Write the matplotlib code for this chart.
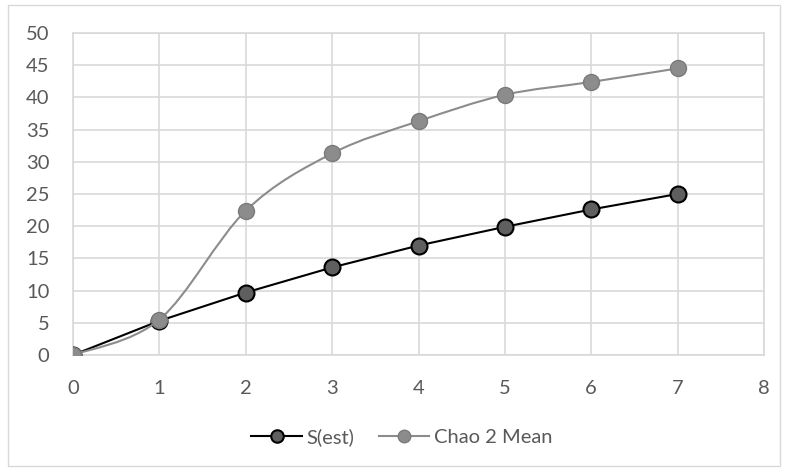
import matplotlib.pyplot as plt
import numpy as np
from matplotlib.path import Path
from matplotlib.patches import PathPatch, Rectangle

# datos de las curvas de acumulación
muestras = [0, 1, 2, 3, 4, 5, 6, 7]
s_est = [0, 5.3, 9.7, 13.6, 17.0, 19.9, 22.6, 25.0]
chao2 = [0, 5.5, 22.4, 31.3, 36.3, 40.4, 42.4, 44.5]
etiquetas = ['S(est)', 'Chao 2 Mean']

plt.rcParams['font.family'] = ['Lato', 'DejaVu Sans']
gris_texto = '#595959'
gris_chao = '#8c8c8c'

fig = plt.figure(figsize=(7.87, 4.74), dpi=100)
ax = fig.add_axes([73/787, 1 - 355/474, (764 - 73)/787, (355 - 33)/474])

# borde exterior del gráfico
fig.patches.append(Rectangle((8/787, 8/474), 772/787, 461/474, transform=fig.transFigure,
                             fill=False, edgecolor='#d9d9d9', linewidth=1))


def curva_suave(x, y, t=1/6):
    # spline tipo Catmull-Rom en segmentos Bezier cúbicos
    pts = np.column_stack([x, y]).astype(float)
    verts = [pts[0]]
    codes = [Path.MOVETO]
    n = len(pts)
    for i in range(n - 1):
        p0 = pts[max(i - 1, 0)]
        p1 = pts[i]
        p2 = pts[i + 1]
        p3 = pts[min(i + 2, n - 1)]
        c1 = p1 + (p2 - p0) * t
        c2 = p2 - (p3 - p1) * t
        verts += [c1, c2, p2]
        codes += [Path.CURVE4] * 3
    return Path(verts, codes)


# S(est)
ax.plot(muestras, s_est, color='black', linewidth=1.5, marker='o', markersize=11.5,
        markerfacecolor='#5f5f5f', markeredgecolor='black', markeredgewidth=1.5, zorder=3)

# curva Chao 2 suavizada
ax.add_patch(PathPatch(curva_suave(muestras, chao2), fill=False, edgecolor=gris_chao,
                       linewidth=1.5, zorder=4))
ax.plot(muestras, chao2, linestyle='none', marker='o', markersize=11.5,
        markerfacecolor=gris_chao, markeredgecolor='#7a7a7a', zorder=5)

ax.set_xlim(0, 8)
ax.set_ylim(0, 50)
ax.set_xticks(range(0, 9))
ax.set_yticks(range(0, 51, 5))
ax.grid(True, color='#d9d9d9', linewidth=1.2)
ax.set_axisbelow(True)
for s in ax.spines.values():
    s.set_color('#d9d9d9')
    s.set_linewidth(1.2)
ax.tick_params(length=0, labelsize=14.5, colors=gris_texto)
ax.tick_params(axis='x', pad=18)
ax.tick_params(axis='y', pad=17)

# leyenda
h1 = plt.Line2D([], [], color='black', linewidth=1.5, marker='o', markersize=9,
                markerfacecolor='#5f5f5f', markeredgecolor='black', markeredgewidth=1.5)
h2 = plt.Line2D([], [], color=gris_chao, linewidth=1.5, marker='o', markersize=9,
                markerfacecolor=gris_chao, markeredgecolor='#7a7a7a')
leg = fig.legend([h1, h2], etiquetas, loc='center', bbox_to_anchor=(402/787, 1 - 437/474),
                 ncol=2, frameon=False, fontsize=14.5, handlelength=2.5, columnspacing=1.2,
                 handletextpad=0.25)
for t in leg.get_texts():
    t.set_color(gris_texto)

fig.savefig('out.png', dpi=100)
